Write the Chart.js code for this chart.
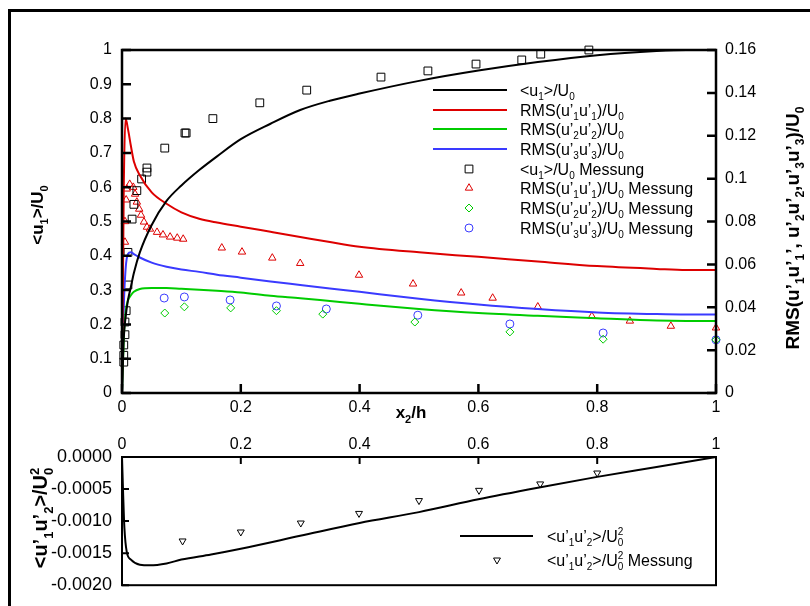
<!DOCTYPE html>
<html>
<head>
<meta charset="utf-8">
<title>Profil u1 und RMS</title>
<script src="https://cdn.jsdelivr.net/npm/chart.js"></script>
<style>
  body { margin: 0; background: #fff; }
  #wrap { position: relative; width: 810px; height: 606px; overflow: hidden; }
  #frame { position: absolute; left: 8px; top: 9px; width: 900px; height: 700px; border-left: 3px solid #000; border-top: 3px solid #000; }
  #top { position: absolute; left: 0; top: 0; }
  #bottom { position: absolute; left: 0; top: 430px; }
</style>
</head>
<body>
<div id="wrap">
  <div id="frame"></div>
  <canvas id="top" width="810" height="430"></canvas>
  <canvas id="bottom" width="810" height="176"></canvas>
</div>
<script>
const FONT = "'Liberation Sans', Arial, Helvetica, sans-serif";

// simulierte Profile, gemeinsames x2/h Raster
const xGrid = [0, 0.003, 0.006, 0.01, 0.015, 0.02, 0.03, 0.05, 0.075, 0.1, 0.13, 0.16, 0.2, 0.25, 0.3, 0.35, 0.4, 0.5, 0.6, 0.7, 0.8, 0.9, 0.95, 1];
const u1Line = [0, 0.16, 0.22, 0.27, 0.31, 0.35, 0.41, 0.49, 0.56, 0.605, 0.65, 0.69, 0.74, 0.785, 0.825, 0.852, 0.873, 0.91, 0.94, 0.965, 0.985, 0.997, 1.0, 1.0];
// RMS Kurven (rechte Achse)
const rms11Line = [0, 0.096, 0.128, 0.1232, 0.1152, 0.108, 0.1016, 0.0936, 0.0883, 0.0843, 0.0813, 0.0795, 0.0776, 0.0752, 0.0728, 0.0704, 0.0682, 0.0656, 0.0635, 0.0613, 0.0592, 0.0579, 0.0574, 0.0574];
const rms22Line = [0, 0.0256, 0.0376, 0.0432, 0.0456, 0.0472, 0.0485, 0.049, 0.049, 0.0486, 0.0482, 0.0477, 0.0469, 0.0454, 0.0442, 0.0429, 0.0416, 0.0392, 0.0373, 0.036, 0.0349, 0.0338, 0.0336, 0.0336];
const rms33Line = [0, 0.04, 0.0576, 0.0648, 0.0656, 0.0648, 0.0632, 0.0608, 0.0589, 0.0576, 0.0565, 0.0552, 0.0538, 0.052, 0.0504, 0.0488, 0.0472, 0.044, 0.0413, 0.0392, 0.0376, 0.0368, 0.0366, 0.0366];

// Messungen
const u1MessX = [0.003, 0.003, 0.003, 0.005, 0.005, 0.007, 0.01, 0.01, 0.017, 0.02, 0.025, 0.033, 0.042, 0.042, 0.072, 0.106, 0.108, 0.153, 0.232, 0.311, 0.436, 0.515, 0.596, 0.673, 0.705, 0.786];
const u1MessY = [0.09, 0.11, 0.14, 0.17, 0.207, 0.24, 0.315, 0.41, 0.507, 0.55, 0.59, 0.624, 0.644, 0.656, 0.714, 0.758, 0.758, 0.80, 0.846, 0.883, 0.921, 0.939, 0.959, 0.971, 0.988, 1.0];
const rms11MessX = [0.005, 0.005, 0.007, 0.008, 0.013, 0.019, 0.022, 0.025, 0.029, 0.032, 0.037, 0.042, 0.047, 0.059, 0.069, 0.081, 0.093, 0.103, 0.168, 0.202, 0.253, 0.30, 0.399, 0.49, 0.571, 0.624, 0.70, 0.791, 0.855, 0.924, 1.0];
const rms11MessY = [0.0704, 0.08, 0.0901, 0.0952, 0.0974, 0.096, 0.0928, 0.0891, 0.0858, 0.083, 0.0798, 0.0774, 0.0765, 0.075, 0.0738, 0.0728, 0.0723, 0.0718, 0.0677, 0.0658, 0.063, 0.0605, 0.055, 0.0509, 0.0467, 0.0443, 0.0402, 0.0358, 0.0336, 0.0312, 0.0304];
const rms22MessX = [0.072, 0.105, 0.183, 0.26, 0.338, 0.493, 0.653, 0.81, 1.0];
const rms22MessY = [0.0373, 0.0402, 0.0397, 0.0384, 0.0368, 0.0331, 0.0285, 0.0251, 0.0248];
const rms33MessX = [0.071, 0.105, 0.182, 0.26, 0.344, 0.498, 0.653, 0.81, 1.0];
const rms33MessY = [0.0443, 0.0448, 0.0434, 0.0406, 0.0392, 0.0363, 0.0322, 0.028, 0.0248];

// Schubspannung
const uvX = [0, 0.002, 0.004, 0.008, 0.015, 0.03, 0.047, 0.075, 0.1, 0.15, 0.2, 0.3, 0.4, 0.5, 0.6, 0.7, 0.8, 0.9, 1];
const uvLine = [0, -0.0006, -0.0011, -0.00148, -0.0016, -0.00168, -0.00169, -0.00166, -0.0016, -0.00152, -0.00143, -0.00123, -0.00103, -0.00086, -0.00066, -0.00048, -0.00031, -0.000155, 0];
const uvMessX = [0.102, 0.2, 0.301, 0.399, 0.5, 0.601, 0.704, 0.8];
const uvMessY = [-0.00131, -0.00117, -0.00103, -0.00088, -0.00068, -0.00052, -0.00042, -0.00025];

const RED = '#dd0000', GREEN = '#00cc00', BLUE = '#3a3aff';

function pts(xs, ys) { return xs.map((x, i) => ({x: x, y: ys[i]})); }
function trim(v) { return String(Math.round(v * 10000) / 10000); }

// Text mit Tief-/Hochstellung: _x tief, ^x hoch
function parseRich(s) {
  const parts = []; let buf = '';
  for (let i = 0; i < s.length; i++) {
    const c = s[i];
    if (c === '_' || c === '^') {
      if (buf) { parts.push({t: buf, k: 'n'}); buf = ''; }
      parts.push({t: s[i + 1], k: c === '_' ? 'sub' : 'sup'});
      i++;
    } else buf += c;
  }
  if (buf) parts.push({t: buf, k: 'n'});
  return parts;
}
function drawRich(ctx, s, x, y, size, weight, align) {
  const parts = parseRich(s);
  let cx = 0, prev = null; const items = [];
  for (const p of parts) {
    const fs = p.k === 'n' ? size : Math.round(size * 0.65);
    ctx.font = weight + ' ' + fs + 'px ' + FONT;
    const w = ctx.measureText(p.t).width;
    let px = cx;
    if (prev && prev.k !== 'n' && p.k !== 'n' && prev.k !== p.k) {
      px = prev.x; cx = Math.max(prev.x + prev.w, px + w);
    } else cx = px + w;
    const it = {t: p.t, k: p.k, x: px, w: w, fs: fs};
    items.push(it); prev = it;
  }
  const x0 = align === 'center' ? x - cx / 2 : x;
  ctx.save();
  ctx.textAlign = 'left'; ctx.textBaseline = 'alphabetic'; ctx.fillStyle = '#000';
  const base = y + size * 0.36;
  for (const it of items) {
    ctx.font = weight + ' ' + it.fs + 'px ' + FONT;
    let dy = 0;
    if (it.k === 'sub') dy = size * 0.28;
    if (it.k === 'sup') dy = -size * 0.42;
    ctx.fillText(it.t, x0 + it.x, base + dy);
  }
  ctx.restore();
}
function drawRotated(ctx, s, x, y, size) {
  ctx.save();
  ctx.translate(x, y); ctx.rotate(-Math.PI / 2);
  drawRich(ctx, s, 0, 0, size, 'bold', 'center');
  ctx.restore();
}
function drawMarker(ctx, style, x, y, r, color) {
  ctx.save();
  ctx.strokeStyle = color; ctx.lineWidth = 1; ctx.beginPath();
  if (style === 'rect') {
    const s = r * Math.SQRT1_2; ctx.rect(x - s, y - s, 2 * s, 2 * s);
  } else if (style === 'triangle' || style === 'triangleDown') {
    const d = style === 'triangle' ? 1 : -1;
    for (let k = 0; k < 3; k++) {
      const a = k * 2 * Math.PI / 3;
      const px = x + Math.sin(a) * r, py = y - d * Math.cos(a) * r;
      if (k) ctx.lineTo(px, py); else ctx.moveTo(px, py);
    }
    ctx.closePath();
  } else if (style === 'rectRot') {
    ctx.moveTo(x - r, y); ctx.lineTo(x, y - r); ctx.lineTo(x + r, y); ctx.lineTo(x, y + r); ctx.closePath();
  } else {
    ctx.arc(x, y, r, 0, 2 * Math.PI);
  }
  ctx.stroke(); ctx.restore();
}

// Rahmen + Ticks nach innen
function frameTicks(lw, len, sides) {
  return {
    id: 'frameTicks',
    afterDatasetsDraw(chart) {
      const ctx = chart.ctx, a = chart.chartArea;
      ctx.save();
      ctx.strokeStyle = '#000'; ctx.lineWidth = lw;
      ctx.strokeRect(a.left, a.top, a.right - a.left, a.bottom - a.top);
      ctx.beginPath();
      for (const id in sides) {
        const sc = chart.scales[id], side = sides[id];
        for (const t of sc.ticks) {
          const p = sc.getPixelForValue(t.value);
          if (side === 'bottom') { ctx.moveTo(p, a.bottom); ctx.lineTo(p, a.bottom - len); }
          if (side === 'top') { ctx.moveTo(p, a.top); ctx.lineTo(p, a.top + len); }
          if (side === 'left') { ctx.moveTo(a.left, p); ctx.lineTo(a.left + len, p); }
          if (side === 'right') { ctx.moveTo(a.right, p); ctx.lineTo(a.right - len, p); }
        }
      }
      ctx.stroke();
      ctx.restore();
    }
  };
}

const topLegend = [
  {text: '<u_1>/U_0', line: '#000'},
  {text: 'RMS(u’_1u’_1)/U_0', line: RED},
  {text: 'RMS(u’_2u’_2)/U_0', line: GREEN},
  {text: 'RMS(u’_3u’_3)/U_0', line: BLUE},
  {text: '<u_1>/U_0 Messung', marker: 'rect', color: '#000', r: 5.5},
  {text: 'RMS(u’_1u’_1)/U_0 Messung', marker: 'triangle', color: RED, r: 4.3},
  {text: 'RMS(u’_2u’_2)/U_0 Messung', marker: 'rectRot', color: GREEN, r: 4},
  {text: 'RMS(u’_3u’_3)/U_0 Messung', marker: 'circle', color: BLUE, r: 4}
];
const topLegendY = [90, 110, 129, 149, 169, 188, 208, 228];

const topDecor = {
  id: 'topDecor',
  afterDraw(chart) {
    const ctx = chart.ctx;
    topLegend.forEach((e, i) => {
      const y = topLegendY[i];
      if (e.line) {
        ctx.save(); ctx.strokeStyle = e.line; ctx.lineWidth = 2;
        ctx.beginPath(); ctx.moveTo(433, y); ctx.lineTo(507, y); ctx.stroke(); ctx.restore();
      } else drawMarker(ctx, e.marker, 469, y, e.r, e.color);
      drawRich(ctx, e.text, 520, y, 16, 'normal', 'left');
    });
    drawRotated(ctx, '<u_1>/U_0', 37, 215, 17);
    drawRotated(ctx, 'RMS(u’_1u’_1’, u’_2u’_2,u’_3u’_3)/U_0', 792, 228, 19);
    drawRich(ctx, 'x_2/h', 411, 412, 17, 'bold', 'center');
  }
};

const bottomDecor = {
  id: 'bottomDecor',
  afterDraw(chart) {
    const ctx = chart.ctx;
    ctx.save(); ctx.strokeStyle = '#000'; ctx.lineWidth = 2;
    ctx.beginPath(); ctx.moveTo(460, 106); ctx.lineTo(533, 106); ctx.stroke(); ctx.restore();
    drawRich(ctx, '<u’_1u’_2>/U_0^2', 547, 106, 16, 'normal', 'left');
    drawMarker(ctx, 'triangleDown', 497, 130, 4, '#000');
    drawRich(ctx, '<u’_1u’_2>/U_0^2 Messung', 547, 130, 16, 'normal', 'left');
    drawRotated(ctx, '<u’_1u’_2>/U_0^2', 40, 88, 20);
  }
};

Chart.defaults.font.family = FONT;
Chart.defaults.font.size = 16;
Chart.defaults.color = '#000';

const noGrid = {drawOnChartArea: false, drawTicks: false};

function lineSet(ys, color, axis) {
  return {data: pts(xGrid, ys), yAxisID: axis, showLine: true, borderColor: color, borderWidth: 2,
          pointRadius: 0, cubicInterpolationMode: 'monotone', clip: false};
}
function markSet(xs, ys, style, color, r, axis, rot) {
  return {data: pts(xs, ys), yAxisID: axis, showLine: false, pointStyle: style, pointRadius: r,
          pointRotation: rot || 0,
          pointBorderColor: color, pointBackgroundColor: 'rgba(0,0,0,0)', pointBorderWidth: 1, clip: false};
}

new Chart(document.getElementById('top'), {
  type: 'scatter',
  data: {
    datasets: [
      lineSet(u1Line, '#000', 'y'),
      lineSet(rms11Line, RED, 'y2'),
      lineSet(rms22Line, GREEN, 'y2'),
      lineSet(rms33Line, BLUE, 'y2'),
      markSet(u1MessX, u1MessY, 'rect', '#000', 5.5, 'y'),
      markSet(rms11MessX, rms11MessY, 'triangle', RED, 4.3, 'y2'),
      markSet(rms22MessX, rms22MessY, 'rectRot', GREEN, 4, 'y2'),
      markSet(rms33MessX, rms33MessY, 'circle', BLUE, 4, 'y2')
    ]
  },
  options: {
    responsive: false,
    animation: false,
    layout: {padding: {top: 50, left: 0, right: 0, bottom: 0}},
    plugins: {legend: {display: false}, tooltip: {enabled: false}},
    scales: {
      x: {type: 'linear', position: 'bottom', min: 0, max: 1,
          ticks: {stepSize: 0.2, padding: 5, callback: trim},
          grid: noGrid, border: {display: false},
          afterFit: s => { s.height = 37; }},
      y: {type: 'linear', position: 'left', min: 0, max: 1,
          ticks: {stepSize: 0.1, padding: 10, callback: trim},
          grid: noGrid, border: {display: false},
          afterFit: s => { s.width = 122; }},
      y2: {type: 'linear', position: 'right', min: 0, max: 0.16,
          ticks: {stepSize: 0.02, padding: 9, callback: trim},
          grid: noGrid, border: {display: false},
          afterFit: s => { s.width = 94; }}
    }
  },
  plugins: [frameTicks(2.5, 9, {x: 'bottom', y: 'left', y2: 'right'}), topDecor]
});

new Chart(document.getElementById('bottom'), {
  type: 'scatter',
  data: {
    datasets: [
      {data: pts(uvX, uvLine), showLine: true, borderColor: '#000', borderWidth: 2, pointRadius: 0,
       cubicInterpolationMode: 'monotone', clip: false},
      markSet(uvMessX, uvMessY, 'triangle', '#000', 4, 'y', 180)
    ]
  },
  options: {
    responsive: false,
    animation: false,
    layout: {padding: {top: 0, left: 0, right: 94, bottom: 19}},
    plugins: {legend: {display: false}, tooltip: {enabled: false}},
    scales: {
      x: {type: 'linear', position: 'top', min: 0, max: 1,
          ticks: {stepSize: 0.2, padding: 3, callback: trim},
          grid: noGrid, border: {display: false},
          afterFit: s => { s.height = 27; }},
      y: {type: 'linear', position: 'left', min: -0.002, max: 0,
          ticks: {stepSize: 0.0005, padding: 10, font: {size: 18},
                  callback: v => (Math.abs(v) < 1e-12 ? 0 : v).toFixed(4)},
          grid: noGrid, border: {display: false},
          afterFit: s => { s.width = 122; }}
    }
  },
  plugins: [frameTicks(2, 7, {x: 'top', y: 'left'}), bottomDecor]
});
</script>
</body>
</html>
